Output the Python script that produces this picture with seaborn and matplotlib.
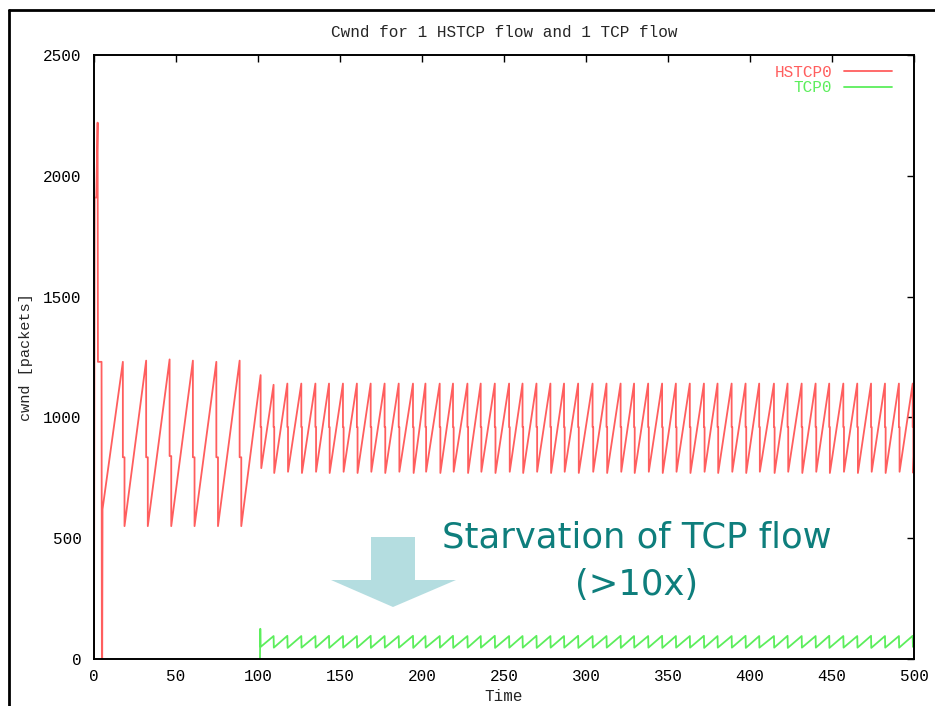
import numpy as np
import pandas as pd
import matplotlib
matplotlib.use("Agg")
import matplotlib.pyplot as plt
from matplotlib.patches import Polygon
from matplotlib.lines import Line2D
import seaborn as sns

# ---------------- data ----------------
# HSTCP0 start-up transient (time s, cwnd packets)
hs_start_t = [0.0, 0.4, 1.4, 2.2, 2.4, 4.6, 4.8, 5.0, 5.2]
hs_start_v = [0, 1910, 1910, 2220, 1230, 1230, 0, 0, 620]

# Phase 1 (alone): loss instants, peak / mid / trough values
hs1_drop_t = [17.6, 31.8, 46.1, 60.3, 74.6, 88.8]
hs1_peak = [1230, 1235, 1240, 1235, 1230, 1235]
hs1_mid = [835, 835, 840, 835, 835, 835]
hs1_trough = [550, 550, 550, 550, 550, 550]

# Phase 2 (with TCP): loss instants and peaks
hs2_drop_t = [101.6, 109.5, 117.9, 126.4, 135.0, 143.3, 151.8, 160.3, 168.7,
              177.2, 185.8, 194.5, 202.1, 210.8, 218.9, 227.7, 235.8, 244.4,
              253.1, 261.3, 269.8, 278.3, 286.6, 295.2, 304.0, 312.5, 321.1,
              329.3, 337.9, 346.4, 354.8, 363.3, 371.9, 380.2, 388.8, 397.3,
              405.6, 414.6, 422.9, 431.5, 440.0, 448.3, 456.9, 465.4, 473.8,
              482.3, 490.8, 499.2]
hs2_peak = [1175, 1135, 1140, 1140, 1140, 1140, 1140, 1140, 1140,
            1140, 1140, 1140, 1140, 1140, 1140, 1140, 1140, 1140,
            1140, 1140, 1140, 1140, 1140, 1140, 1140, 1140, 1140,
            1140, 1140, 1140, 1140, 1140, 1140, 1140, 1140, 1140,
            1140, 1140, 1140, 1140, 1140, 1140, 1140, 1140, 1140,
            1140, 1140, 1140]
hs2_mid = 960
hs2_trough = [790, 770, 775, 770, 775, 770, 775, 770, 775,
              770, 775, 770, 775, 770, 775, 770, 775, 770,
              775, 770, 775, 770, 775, 770, 775, 770, 775,
              770, 775, 770, 775, 770, 775, 770, 775, 770,
              775, 770, 775, 770, 775, 770, 775, 770, 775,
              770, 775, 770]
hs_end = (500.0, 850)

# TCP0
tcp_start_t = [101.2, 101.4, 101.6]
tcp_start_v = [0, 125, 50]
tcp_drop_t = hs2_drop_t[1:]
tcp_peak = [95, 96, 95, 95, 96, 95, 95, 96, 95, 95, 96, 95, 95, 96, 95, 95,
            96, 95, 95, 96, 95, 95, 96, 95, 95, 96, 95, 95, 96, 95, 95, 96,
            95, 95, 96, 95, 95, 96, 95, 95, 96, 95, 95, 96, 95, 95, 96]
tcp_trough = [47, 46, 47, 47, 46, 47, 47, 46, 47, 47, 46, 47, 47, 46, 47, 47,
              46, 47, 47, 46, 47, 47, 46, 47, 47, 46, 47, 47, 46, 47, 47, 46,
              47, 47, 46, 47, 47, 46, 47, 47, 46, 47, 47, 46, 47, 47, 50]
tcp_end = (500.0, 52)

xticks = [0, 50, 100, 150, 200, 250, 300, 350, 400, 450, 500]
yticks = [0, 500, 1000, 1500, 2000, 2500]

# ---------------- build vertex table ----------------
ht, hv = list(hs_start_t), list(hs_start_v)
for td, pk, md, tr in zip(hs1_drop_t, hs1_peak, hs1_mid, hs1_trough):
    ht += [td, td, td + 1.0, td + 1.0]
    hv += [pk, md, md, tr]
for td, pk, tr in zip(hs2_drop_t, hs2_peak, hs2_trough):
    ht += [td, td, td + 0.4, td + 0.4]
    hv += [pk, hs2_mid, hs2_mid, tr]
ht.append(hs_end[0]); hv.append(hs_end[1])

tt, tv = list(tcp_start_t), list(tcp_start_v)
for td, pk, tr in zip(tcp_drop_t, tcp_peak, tcp_trough):
    tt += [td, td + 0.15]
    tv += [pk, tr]
tt.append(tcp_end[0]); tv.append(tcp_end[1])

df = pd.DataFrame({
    "Time": ht + tt,
    "cwnd": hv + tv,
    "flow": ["HSTCP0"] * len(ht) + ["TCP0"] * len(tt),
})

# ---------------- plot ----------------
sns.set_theme(style="white")
plt.rcParams["font.family"] = ["Liberation Mono", "DejaVu Sans Mono"]

fig = plt.figure(figsize=(9.35, 7.06), dpi=100)
W, H = 935, 706
ax = fig.add_axes([94 / W, 1 - 659 / H, (914 - 94) / W, (659 - 55) / H])

palette = {"HSTCP0": "#ff5e5e", "TCP0": "#5cee5c"}
sns.lineplot(data=df, x="Time", y="cwnd", hue="flow", palette=palette,
             sort=False, estimator=None, linewidth=1.3, ax=ax)

ax.set_xlim(0, 500)
ax.set_ylim(0, 2500)
ax.set_xticks(xticks)
ax.set_yticks(yticks)
ax.tick_params(direction="in", length=5, width=1, top=True, right=True,
               labelsize=11.5, colors="black")
ax.tick_params(axis="y", pad=9)
ax.tick_params(axis="x", pad=7)
for s in ax.spines.values():
    s.set_color("black")
    s.set_linewidth(1.4)

ax.set_title("Cwnd for 1 HSTCP flow and 1 TCP flow", fontsize=11.5, pad=13)
ax.set_xlabel("Time", fontsize=11.5, labelpad=4)
ax.set_ylabel("cwnd [packets]", fontsize=11, labelpad=7)

leg = ax.legend(loc="upper right", bbox_to_anchor=(0.985, 1.0), frameon=False,
                markerfirst=False, fontsize=11.5, handlelength=3.0,
                handletextpad=0.75, labelspacing=0.05, labelcolor="linecolor",
                borderaxespad=0.2)
for lh in leg.get_lines():
    lh.set_linewidth(1.3)

# ---------------- slide annotation ----------------
def fx(px):
    return px / W

def fy(py):
    return 1 - py / H

arrow = Polygon([(fx(371), fy(537)), (fx(415), fy(537)), (fx(415), fy(580)),
                 (fx(456), fy(580)), (fx(393), fy(607)), (fx(331), fy(580)),
                 (fx(371), fy(580))], closed=True, transform=fig.transFigure,
                facecolor="#b4dde0", edgecolor="none", zorder=5)
fig.add_artist(arrow)

fig.text(fx(637), fy(537), "Starvation of TCP flow", ha="center", va="center",
         fontsize=25.5, color="#0e7e7c", family=["DejaVu Sans"])
fig.text(fx(637), fy(585), "(>10x)", ha="center", va="center",
         fontsize=25.5, color="#0e7e7c", family=["DejaVu Sans"])

# slide frame lines
fig.add_artist(Line2D([fx(9), fx(9)], [fy(10), 0], transform=fig.transFigure,
                      color="black", linewidth=2))
fig.add_artist(Line2D([fx(9), 1], [fy(10), fy(10)], transform=fig.transFigure,
                      color="black", linewidth=2))

fig.savefig("out.png", dpi=100)
